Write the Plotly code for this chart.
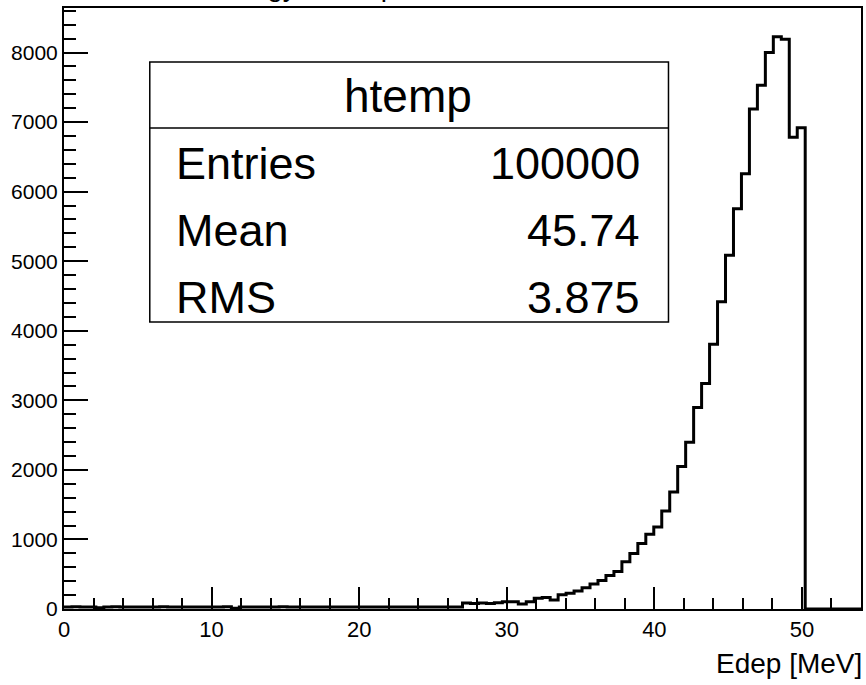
import plotly.graph_objects as go

# ---- data ----
x_min = 0.0
x_max = 54.0
n_bins = 100
counts_low = [30, 32, 28, 30, 18, 30, 31, 29, 30, 30,
              30, 29, 31, 30, 30, 30, 29, 30, 30, 30,
              31, 12, 30, 30, 29, 30, 30, 31, 30, 30,
              30, 30, 30, 30, 30, 30, 30, 30, 30, 30,
              30, 30, 30, 30, 30, 30, 30, 30, 30, 30]
counts_mid = [85, 80, 85, 80, 90, 105, 105, 72, 105, 153, 167, 129, 205, 225,
              260, 305, 360, 410, 482, 540]
counts_rise = [678, 798, 941, 1074, 1180, 1409, 1681, 2049, 2397, 2898]
counts_peak = [3243, 3806, 4417, 5086, 5755, 6256, 7187, 7531, 7999, 8228,
               8190, 6781, 6920]
counts_tail = [0, 0, 0, 0, 0, 0, 0]
counts = counts_low + counts_mid + counts_rise + counts_peak + counts_tail

y_max = 8640
x_ticks = [0, 10, 20, 30, 40, 50]
y_ticks = [0, 1000, 2000, 3000, 4000, 5000, 6000, 7000, 8000]

stats_title = "htemp"
stats_names = ["Entries", "Mean", "RMS"]
stats_values = ["100000", "45.74", "3.875"]
x_title = "Edep [MeV]"
title_text = "Energy in the phantom"

FONT = "Liberation Sans, Arial, sans-serif"

bw = (x_max - x_min) / n_bins
edges = [x_min + i * bw for i in range(n_bins + 1)]
ys = counts + [counts[-1]]

fig = go.Figure()
fig.add_trace(go.Scatter(
    x=edges, y=ys, mode="lines", line_shape="hv",
    line=dict(color="black", width=3), showlegend=False, hoverinfo="skip"))

# plot area in pixels: x 64..863, y 8..609
L, R, T, B = 64, 863, 8, 609
W, H = R - L, B - T
def px(x):
    return (x - L) / W
def py(y):
    return (B - y) / H

fig.update_layout(
    width=866, height=685,
    margin=dict(l=L, r=866 - R, t=T, b=685 - B),
    paper_bgcolor="white", plot_bgcolor="white",
    font=dict(family=FONT, color="black"),
    xaxis=dict(range=[x_min, x_max], tickvals=x_ticks, ticks="inside",
               ticklen=22, tickwidth=1.5, tickcolor="black",
               showline=True, linecolor="black", linewidth=2, mirror=True,
               showgrid=False, zeroline=False,
               tickfont=dict(size=22, family=FONT),
               minor=dict(dtick=2, ticks="inside", ticklen=11, tickwidth=1.5,
                          tickcolor="black", showgrid=False)),
    yaxis=dict(range=[0, y_max], tickvals=y_ticks, ticks="inside",
               ticklen=24, tickwidth=1.5, tickcolor="black",
               showline=True, linecolor="black", linewidth=2, mirror=True,
               showgrid=False, zeroline=False,
               tickfont=dict(size=21, family=FONT),
               minor=dict(dtick=200, ticks="inside", ticklen=12, tickwidth=1.5,
                          tickcolor="black", showgrid=False)),
)

# stats box
bx0, bx1, by0, by1, bdiv = 150, 670, 62, 322, 128
fig.add_shape(type="rect", xref="paper", yref="paper",
              x0=px(bx0), x1=px(bx1), y0=py(by1), y1=py(by0),
              line=dict(color="black", width=1.5), fillcolor="white", layer="above")
fig.add_shape(type="line", xref="paper", yref="paper",
              x0=px(bx0), x1=px(bx1), y0=py(bdiv), y1=py(bdiv),
              line=dict(color="black", width=1.5), layer="above")
fig.add_annotation(xref="paper", yref="paper", x=px(409), y=py(96),
                   text=stats_title, showarrow=False, xanchor="center", yanchor="middle",
                   font=dict(size=46, family=FONT))
row_y = [163, 230, 297]
for name, val, yy in zip(stats_names, stats_values, row_y):
    fig.add_annotation(xref="paper", yref="paper", x=px(174), y=py(yy),
                       text=name, showarrow=False, xanchor="left", yanchor="middle",
                       font=dict(size=45, family=FONT))
    fig.add_annotation(xref="paper", yref="paper", x=px(643), y=py(yy),
                       text=val, showarrow=False, xanchor="right", yanchor="middle",
                       font=dict(size=45, family=FONT))

# x axis title
fig.add_annotation(xref="paper", yref="paper", x=px(866), y=py(663),
                   text=x_title, showarrow=False, xanchor="right", yanchor="middle",
                   font=dict(size=28, family=FONT))

# title (mostly above the visible page; only descenders show, as in the reference)
fig.add_annotation(xref="paper", yref="paper", x=px(206), y=py(4),
                   text=title_text, showarrow=False, xanchor="left", yanchor="bottom",
                   font=dict(size=28, family=FONT))

fig.write_html("out.html")
